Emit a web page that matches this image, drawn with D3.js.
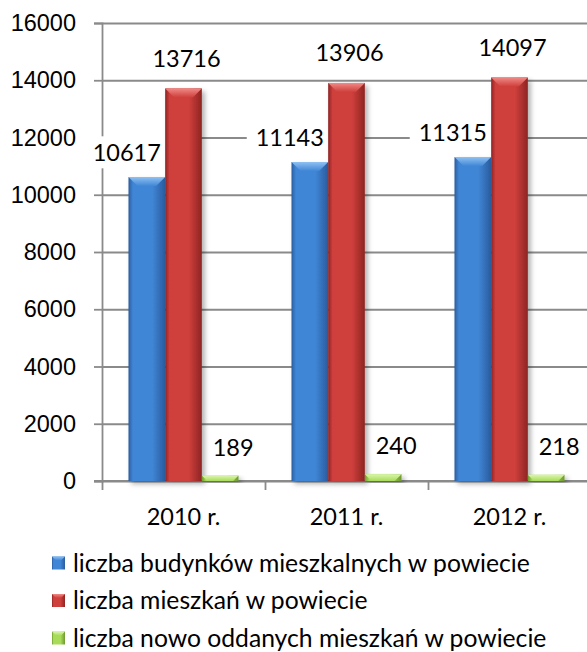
<!DOCTYPE html>
<html>
<head>
<meta charset="utf-8">
<script src="https://cdn.jsdelivr.net/npm/d3@7"></script>
<style>
  html, body { margin: 0; padding: 0; background: #fff; }
  svg { display: block; font-family: Lato, "Open Sans", sans-serif; }
</style>
</head>
<body>
<div id="chart"></div>
<script>
const years = ["2010 r.", "2011 r.", "2012 r."];
const seriesNames = [
  "liczba budynków mieszkalnych w powiecie",
  "liczba mieszkań w powiecie",
  "liczba nowo oddanych mieszkań w powiecie"
];
const buildings = [10617, 11143, 11315];
const flats = [13716, 13906, 14097];
const newFlats = [189, 240, 218];
const yTicks = [0, 2000, 4000, 6000, 8000, 10000, 12000, 14000, 16000];

// look of each series: body colours, bevel colour, label nudge
const looks = [
  { edge: "#2a5c9e", mid: "#3f86d6", top: "#8fc0f2", dx: -20, dy: -24 },
  { edge: "#8e2422", mid: "#cf3f3c", top: "#f08a86", dx: 3, dy: -30 },
  { edge: "#6f9a30", mid: "#a8dc58", top: "#dcf5b0", dx: 13, dy: -28 }
];

const values = [buildings, flats, newFlats];
const rows = years.map((year, i) => ({
  year,
  bars: values.map((v, s) => ({ s, year, value: v[i] }))
}));
const allBars = rows.flatMap(r => r.bars);

const width = 587, height = 652;
const svg = d3.select("#chart").append("svg").attr("width", width).attr("height", height);

const y = d3.scaleLinear().domain([0, 16000]).range([481, 23]);
const x0 = d3.scaleBand().domain(years).range([102, 591]).paddingInner(0.325).paddingOuter(0.1625);
const x1 = d3.scaleBand().domain([0, 1, 2]).range([0, x0.bandwidth()]);
const xEdge = d3.scaleLinear().domain([0, years.length]).range([102, 591]);

const defs = svg.append("defs");
looks.forEach((l, s) => {
  const g = defs.append("linearGradient").attr("id", "body" + s).attr("x1", 0).attr("x2", 1).attr("y1", 0).attr("y2", 0);
  g.append("stop").attr("offset", 0).attr("stop-color", l.edge);
  g.append("stop").attr("offset", 0.12).attr("stop-color", l.mid);
  g.append("stop").attr("offset", 0.65).attr("stop-color", l.mid);
  g.append("stop").attr("offset", 1).attr("stop-color", l.edge);
  const t = defs.append("linearGradient").attr("id", "top" + s).attr("x1", 0).attr("x2", 0).attr("y1", 0).attr("y2", 1);
  t.append("stop").attr("offset", 0).attr("stop-color", l.top);
  t.append("stop").attr("offset", 1).attr("stop-color", l.mid);
});
const shadow = defs.append("filter").attr("id", "shadow").attr("x", "-30%").attr("y", "-10%").attr("width", "170%").attr("height", "130%");
shadow.append("feDropShadow").attr("dx", 3).attr("dy", 3).attr("stdDeviation", 2.5)
  .attr("flood-color", "#000").attr("flood-opacity", 0.3);

// grid
svg.append("g")
  .attr("transform", "translate(102,0)")
  .call(d3.axisLeft(y).tickValues(yTicks).tickSize(-(width - 102)).tickFormat(""))
  .call(g => g.select(".domain").remove())
  .call(g => g.selectAll("line").attr("stroke", "#8a8a8a").attr("stroke-width", 1.8));

// y axis
svg.append("g")
  .attr("transform", "translate(102,0)")
  .call(d3.axisLeft(y).tickValues(yTicks).tickSize(8).tickPadding(18).tickFormat(d3.format("d")))
  .call(g => g.select(".domain").attr("stroke", "#8a8a8a").attr("stroke-width", 1.8))
  .call(g => g.selectAll("line").attr("stroke", "#8a8a8a").attr("stroke-width", 1.8))
  .call(g => g.selectAll("text").attr("font-size", 23.5).attr("fill", "#000").attr("font-family", null));

// x axis with boundary ticks
svg.append("g")
  .attr("transform", "translate(0,481)")
  .call(d3.axisBottom(xEdge).tickValues(d3.range(years.length + 1)).tickSize(9).tickFormat(""))
  .call(g => g.select(".domain").attr("d", `M94,0H${width}`).attr("stroke", "#8a8a8a").attr("stroke-width", 1.8))
  .call(g => g.selectAll("line").attr("stroke", "#8a8a8a").attr("stroke-width", 1.8));

svg.append("g").selectAll("text")
  .data(years)
  .join("text")
  .attr("x", d => x0(d) + x0.bandwidth() / 2)
  .attr("y", 525)
  .attr("text-anchor", "middle")
  .attr("font-size", 23.5)
  .text(d => d);

// label positions
const labelX = d => x0(d.year) + x1(d.s) + x1.bandwidth() / 2 + looks[d.s].dx;
const labelY = d => y(d.value) + looks[d.s].dy;

// white label boxes sit under the bars, hiding the grid only
const boxLayer = svg.append("g");

// bars
const groups = svg.append("g").selectAll("g")
  .data(rows)
  .join("g")
  .attr("transform", d => `translate(${x0(d.year)},0)`);

const bar = groups.selectAll("g.bar")
  .data(d => d.bars)
  .join("g")
  .attr("class", "bar");

bar.append("rect")
  .attr("x", d => x1(d.s))
  .attr("y", d => y(d.value))
  .attr("width", x1.bandwidth())
  .attr("height", d => y(0) - y(d.value))
  .attr("fill", d => `url(#body${d.s})`)
  .attr("filter", "url(#shadow)");

bar.append("path")
  .attr("d", d => {
    const x = x1(d.s), w = x1.bandwidth(), top = y(d.value);
    const b = Math.min(9, y(0) - top);
    return `M${x},${top}H${x + w}L${x + w - b},${top + b}H${x + b}Z`;
  })
  .attr("fill", d => `url(#top${d.s})`);

// value labels
const labels = svg.append("g").selectAll("text")
  .data(allBars)
  .join("text")
  .attr("x", labelX)
  .attr("y", labelY)
  .attr("text-anchor", "middle")
  .attr("dy", "0.35em")
  .attr("font-size", 23.5)
  .text(d => d.value);

const boxes = labels.nodes().map(n => n.getBBox());
boxLayer.selectAll("rect")
  .data(boxes)
  .join("rect")
  .attr("x", b => b.x - 9)
  .attr("y", b => b.y - 2)
  .attr("width", b => b.width + 18)
  .attr("height", b => b.height + 4)
  .attr("fill", "#fff");

// legend
const legend = svg.append("g").selectAll("g")
  .data(seriesNames)
  .join("g")
  .attr("transform", (d, i) => `translate(52,${563 + i * 37.5})`);

legend.append("rect")
  .attr("x", 0).attr("y", -6.5)
  .attr("width", 13).attr("height", 13)
  .attr("fill", (d, i) => `url(#body${i})`);
legend.append("path")
  .attr("d", "M0,-6.5H13L9,-2.5H4Z")
  .attr("fill", (d, i) => `url(#top${i})`);
legend.append("text")
  .attr("x", 21)
  .attr("dy", "0.35em")
  .attr("font-size", 24.7)
  .text(d => d);
</script>
</body>
</html>
